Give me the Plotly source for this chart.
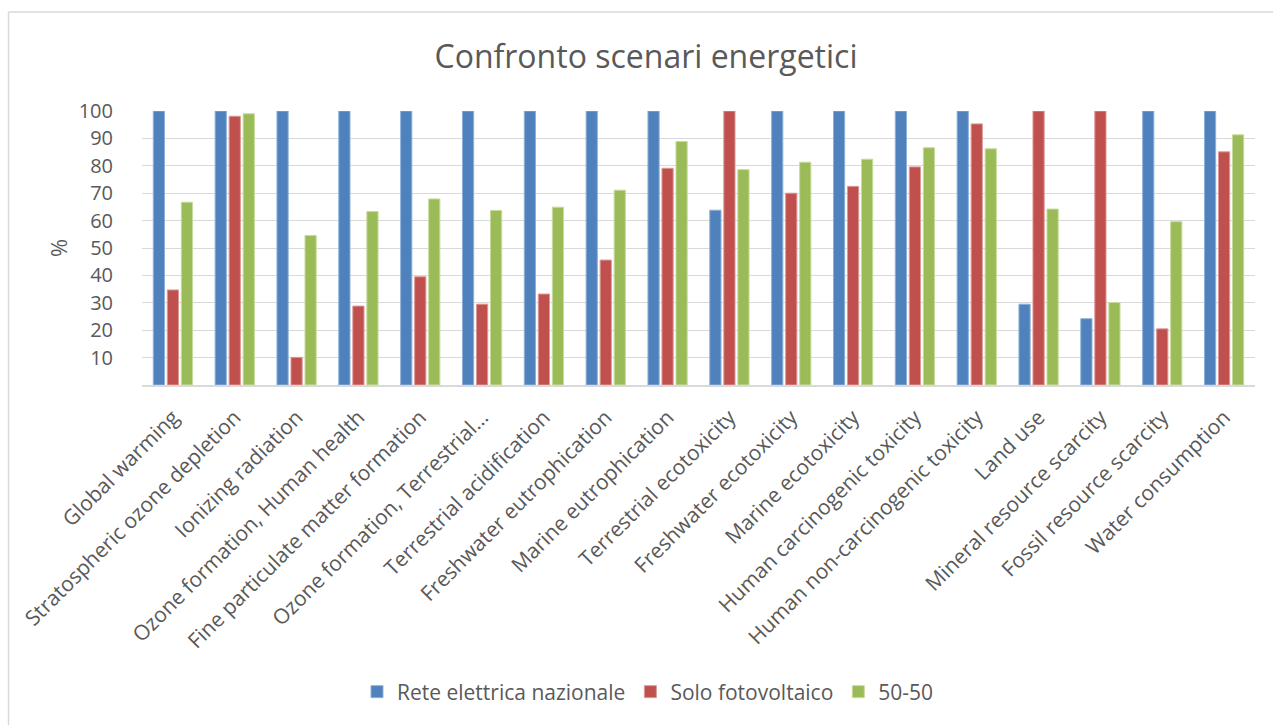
import plotly.graph_objects as go

categories = [
    "Global warming",
    "Stratospheric ozone depletion",
    "Ionizing radiation",
    "Ozone formation, Human health",
    "Fine particulate matter formation",
    "Ozone formation, Terrestrial…",
    "Terrestrial acidification",
    "Freshwater eutrophication",
    "Marine eutrophication",
    "Terrestrial ecotoxicity",
    "Freshwater ecotoxicity",
    "Marine ecotoxicity",
    "Human carcinogenic toxicity",
    "Human non-carcinogenic toxicity",
    "Land use",
    "Mineral resource scarcity",
    "Fossil resource scarcity",
    "Water consumption",
]

rete_nazionale = [100, 100, 100, 100, 100, 100, 100, 100, 100, 63.8,
                  100, 100, 100, 100, 29.5, 24.2, 100, 100]
solo_fotovoltaico = [34.7, 98.1, 10.1, 28.8, 39.5, 29.5, 33.2, 45.6, 79.1, 100,
                     70.0, 72.5, 79.6, 95.3, 100, 100, 20.5, 85.1]
mix_50_50 = [66.7, 99.0, 54.6, 63.3, 67.9, 63.7, 64.9, 71.1, 88.9, 78.6,
             81.3, 82.4, 86.6, 86.2, 64.2, 30.1, 59.6, 91.3]

y_ticks = [10, 20, 30, 40, 50, 60, 70, 80, 90, 100]

W, H = 1273, 725
ML, MR, MT, MB = 142, 18, 111, 340
TEXT = "#595959"
GRID = "#d9d9d9"
FONT = "Open Sans, Noto Sans, sans-serif"

series = [
    ("Rete elettrica nazionale", rete_nazionale, "#4F81BD", "#8eb0d9"),
    ("Solo fotovoltaico", solo_fotovoltaico, "#C0504D", "#dc9a98"),
    ("50-50", mix_50_50, "#9BBB59", "#c6dc9c"),
]

fig = go.Figure()
for name, vals, col, edge in series:
    fig.add_trace(go.Bar(
        x=categories, y=vals, name=name,
        marker=dict(color=col, line=dict(color=edge, width=1)),
    ))

# pixel -> paper helpers for the outer frame
pw = W - ML - MR
ph = H - MT - MB


def px_x(p):
    return (p - ML) / pw


def px_y(p):
    return (H - MB - p) / ph


fig.add_shape(type="line", xref="paper", yref="paper",
              x0=px_x(8.5), x1=px_x(W), y0=px_y(12), y1=px_y(12),
              line=dict(color=GRID, width=1.5))
fig.add_shape(type="line", xref="paper", yref="paper",
              x0=px_x(8.5), x1=px_x(8.5), y0=px_y(12), y1=px_y(H),
              line=dict(color=GRID, width=1.5))

fig.update_layout(
    width=W, height=H,
    margin=dict(l=ML, r=MR, t=MT, b=MB, autoexpand=False),
    paper_bgcolor="white", plot_bgcolor="white",
    font=dict(family=FONT, color=TEXT, size=21),
    title=dict(text="Confronto scenari energetici", x=646 / W, xanchor="center",
               y=1 - 57 / H, yanchor="middle", xref="container", yref="container",
               font=dict(size=32, color=TEXT, family=FONT)),
    barmode="group", bargap=0.32, bargroupgap=0.2,
    showlegend=True,
    legend=dict(orientation="h", x=px_x(648), xanchor="center",
                y=px_y(692), yanchor="middle",
                font=dict(size=21, color=TEXT, family=FONT),
                itemwidth=30, traceorder="normal"),
    xaxis=dict(tickangle=-45, showline=True, linecolor=GRID, linewidth=1.5,
               ticks="", ticklabelstandoff=10,
               tickfont=dict(size=21, color=TEXT, family=FONT),
               showgrid=False),
    yaxis=dict(range=[0, 100], tickvals=y_ticks, showgrid=True, gridcolor=GRID,
               gridwidth=1.3, zeroline=False, showline=False, ticks="",
               ticklabelstandoff=28,
               tickfont=dict(size=20, color=TEXT, family=FONT),
               title=dict(text="%", font=dict(size=22, color=TEXT, family=FONT),
                          standoff=4)),
)

fig.write_html("out.html")
